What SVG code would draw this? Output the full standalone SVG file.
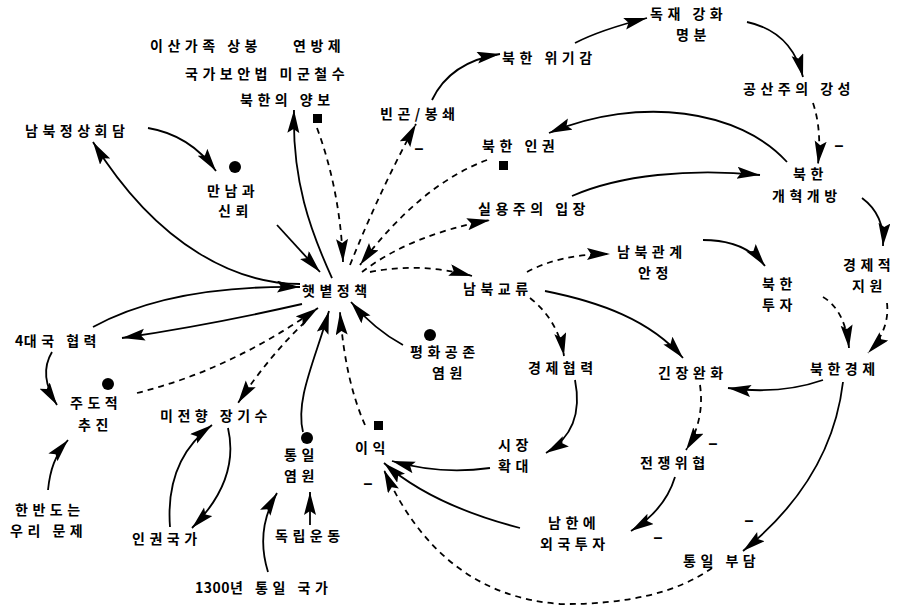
<svg xmlns="http://www.w3.org/2000/svg" width="900" height="611" viewBox="0 0 900 611">
<style>
text{font-family:"Noto Sans CJK KR","Noto Sans",sans-serif;font-size:14px;font-weight:700;fill:#000;letter-spacing:4.5px}
.num{letter-spacing:0.5px}
.pol{font-family:"Liberation Sans",sans-serif;font-size:16px;letter-spacing:0;text-anchor:middle}
.s{fill:none;stroke:#000;stroke-width:1.8;marker-end:url(#ah)}
.d{fill:none;stroke:#000;stroke-width:1.8;stroke-dasharray:6 5;marker-end:url(#ah)}
</style>
<defs>
<marker id="ah" markerUnits="userSpaceOnUse" markerWidth="25" markerHeight="13" refX="23" refY="6" orient="auto">
<path d="M0,0 L23,6 L0,12 L4,6 z" fill="#000"/>
</marker>
</defs>
<rect width="900" height="611" fill="#fff"/>
<g id="connectors">
<path class="s" d="M300,284 C240,284 160,250 93,142"/>
<path class="s" d="M93,327 Q170,285 300,287"/>
<path class="s" d="M302,304 Q210,325 122,338"/>
<path class="d" d="M137,393 Q230,370 318,308"/>
<path class="d" d="M305,322 Q270,355 238,403"/>
<path class="s" d="M148,128 Q190,135 216,171"/>
<path class="s" d="M277,225 L320,272"/>
<path class="s" d="M332,278 C310,230 292,180 294,110"/>
<path class="d" d="M317,128 Q340,190 343,262"/>
<path class="d" d="M350,265 Q380,190 416,124"/>
<path class="s" d="M432,100 Q450,62 500,54"/>
<path class="s" d="M575,43 Q600,30 647,18"/>
<path class="s" d="M747,22 C775,28 795,45 803,77"/>
<path class="d" d="M813,103 Q822,130 818,164"/>
<path class="s" d="M787,162 C740,110 640,95 549,133"/>
<path class="d" d="M487,160 Q420,185 360,265"/>
<path class="d" d="M362,272 Q410,235 490,220"/>
<path class="s" d="M572,196 C620,175 690,168 760,175"/>
<path class="s" d="M862,198 Q885,215 883,246"/>
<path class="d" d="M370,272 Q420,262 472,276"/>
<path class="d" d="M527,272 Q560,254 610,254"/>
<path class="s" d="M703,240 Q745,240 765,266"/>
<path class="d" d="M823,297 Q845,310 849,348"/>
<path class="d" d="M887,303 Q890,330 868,353"/>
<path class="s" d="M823,380 Q780,395 728,388"/>
<path class="s" d="M545,291 C600,302 650,320 683,358"/>
<path class="d" d="M530,298 Q558,320 564,356"/>
<path class="s" d="M575,380 Q585,430 546,453"/>
<path class="s" d="M490,468 Q440,475 392,461"/>
<path class="s" d="M520,528 C470,515 420,495 384,463"/>
<path class="d" d="M712,568 Q660,605 560,604 Q440,595 384,470"/>
<path class="d" d="M365,425 Q345,380 340,312"/>
<path class="s" d="M403,345 Q375,330 351,302"/>
<path class="s" d="M303,432 C295,400 315,360 329,311"/>
<path class="s" d="M310,525 L310,492"/>
<path class="s" d="M268,572 Q255,530 277,493"/>
<path class="s" d="M170,527 Q165,460 212,425"/>
<path class="s" d="M228,428 Q240,480 192,528"/>
<path class="s" d="M48,490 C50,470 55,455 68,440"/>
<path class="s" d="M52,352 Q38,375 57,405"/>
<path class="d" d="M700,385 Q705,420 686,450"/>
<path class="s" d="M675,477 Q665,510 631,531"/>
<path class="s" d="M843,382 C835,450 800,505 743,551"/>
</g>
<g id="polarity">
<text class="pol" x="419" y="154">–</text>
<text class="pol" x="839" y="151">–</text>
<text class="pol" x="368" y="489">–</text>
<text class="pol" x="713" y="449">–</text>
<text class="pol" x="658" y="543">–</text>
<text class="pol" x="749" y="526">–</text>
</g>
<g id="n-sunshine"><text x="302" y="296">햇볕정책</text></g>
<g id="n-top"><text x="150" y="51">이산가족 상봉</text><text x="293" y="51">연방제</text><text x="185" y="79">국가보안법 미군철수</text><text x="240" y="105">북한의 양보</text><rect x="313" y="114" width="9" height="9"/></g>
<g id="n-summit"><text x="25" y="136">남북정상회담</text></g>
<g id="n-trust"><circle cx="235" cy="167" r="6"/><text x="207" y="196">만남과</text><text x="218" y="216">신뢰</text></g>
<g id="n-poverty"><text x="380" y="119">빈곤/봉쇄</text></g>
<g id="n-crisis"><text x="502" y="63">북한 위기감</text></g>
<g id="n-dictator"><text x="650" y="19">독재 강화</text><text x="676" y="40">명분</text></g>
<g id="n-communism"><text x="743" y="94">공산주의 강성</text></g>
<g id="n-reform"><text x="793" y="179">북한</text><text x="772" y="201">개혁개방</text></g>
<g id="n-hr"><text x="482" y="151">북한 인권</text><rect x="499" y="161" width="9" height="9"/></g>
<g id="n-pragmatic"><text x="478" y="214">실용주의 입장</text></g>
<g id="n-exchange"><text x="463" y="294">남북교류</text></g>
<g id="n-stable"><text x="617" y="257">남북관계</text><text x="638" y="278">안정</text></g>
<g id="n-invest"><text x="762" y="289">북한</text><text x="762" y="310">투자</text></g>
<g id="n-aid"><text x="843" y="270">경제적</text><text x="852" y="291">지원</text></g>
<g id="n-nkecon"><text x="810" y="374">북한경제</text></g>
<g id="n-detente"><text x="658" y="378">긴장완화</text></g>
<g id="n-coop"><text x="528" y="373">경제협력</text></g>
<g id="n-peace"><circle cx="430" cy="335" r="6"/><text x="410" y="357">평화공존</text><text x="432" y="378">염원</text></g>
<g id="n-4powers"><text x="15" y="346"><tspan class="num">4</tspan>대국 협력</text></g>
<g id="n-lead"><circle cx="108" cy="384" r="6"/><text x="70" y="408">주도적</text><text x="78" y="430">추진</text></g>
<g id="n-prisoners"><text x="160" y="421">미전향 장기수</text></g>
<g id="n-ourissue"><text x="15" y="515">한반도는</text><text x="10" y="536">우리 문제</text></g>
<g id="n-hrstate"><text x="132" y="544">인권국가</text></g>
<g id="n-1300"><text x="195" y="593"><tspan class="num">1300</tspan>년 통일 국가</text></g>
<g id="n-indep"><text x="275" y="541">독립운동</text></g>
<g id="n-unidesire"><circle cx="307" cy="438" r="6"/><text x="284" y="460">통일</text><text x="284" y="481">염원</text></g>
<g id="n-profit"><rect x="374" y="421" width="9" height="9"/><text x="355" y="453">이익</text></g>
<g id="n-market"><text x="498" y="450">시장</text><text x="498" y="471">확대</text></g>
<g id="n-foreign"><text x="548" y="528">남한에</text><text x="540" y="549">외국투자</text></g>
<g id="n-war"><text x="640" y="468">전쟁위협</text></g>
<g id="n-burden"><text x="683" y="566">통일 부담</text></g>
</svg>
